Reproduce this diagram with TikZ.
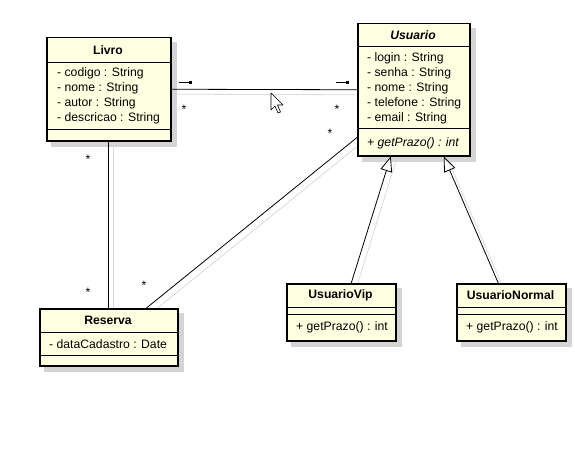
\documentclass[tikz,border=0pt]{standalone}
\usepackage{fontspec}
\setmainfont{Liberation Sans}
\usetikzlibrary{arrows.meta,calc,backgrounds}
\definecolor{classfill}{RGB}{255,255,226}
\definecolor{shadowgray}{RGB}{212,212,212}
\definecolor{lineshadow}{RGB}{218,218,218}
\begin{document}
\begin{tikzpicture}[x=1pt,y=-1pt,
  font=\fontsize{12.2}{14}\selectfont,
  classbox/.style={draw=black,line width=1.5pt,fill=classfill,inner sep=0pt,anchor=north west},
  boxshadow/.style={fill=shadowgray,draw=none},
  sepline/.style={line width=0.8pt},
  member/.style={anchor=west,inner sep=0pt},
  ctitle/.style={inner sep=0pt,font=\fontsize{12.2}{14}\selectfont\bfseries},
  assoc/.style={line width=0.8pt},
  assocshadow/.style={line width=0.8pt,lineshadow},
  mult/.style={inner sep=0pt},
  genarrow/.style={line width=0.8pt,-{Triangle[open,length=15pt,width=12pt,fill=white]}}
]
\useasboundingbox (0,0) rectangle (575,460);

% classes
\node[classbox,minimum width=124pt,minimum height=103pt] (livro) at (46,37) {};
\node[classbox,minimum width=112pt,minimum height=132pt] (usuario) at (357,23) {};
\node[classbox,minimum width=138pt,minimum height=57pt] (reserva) at (39,308) {};
\node[classbox,minimum width=109pt,minimum height=57pt] (vip) at (286,283) {};
\node[classbox,minimum width=109pt,minimum height=57pt] (normal) at (456,283) {};

\begin{scope}[on background layer]
% shadows of boxes
\fill[boxshadow] ([shift={(5,5)}]livro.north west) rectangle ([shift={(5,5)}]livro.south east);
\fill[boxshadow] ([shift={(5,5)}]usuario.north west) rectangle ([shift={(5,5)}]usuario.south east);
\fill[boxshadow] ([shift={(5,5)}]reserva.north west) rectangle ([shift={(5,5)}]reserva.south east);
\fill[boxshadow] ([shift={(5,5)}]vip.north west) rectangle ([shift={(5,5)}]vip.south east);
\fill[boxshadow] ([shift={(5,5)}]normal.north west) rectangle ([shift={(5,5)}]normal.south east);
% shadow lines of connectors
\draw[assocshadow] ([shift={(5,5)}]livro.east) -- ([shift={(5,5)}]usuario.west);
\draw[assocshadow] ([shift={(5,5)}]livro.south) -- ([shift={(5,5)}]reserva.north);
\draw[assocshadow] ([shift={(-27,5)}]reserva.north east) -- ([shift={(5,-14)}]usuario.south west);
\draw[assocshadow] ([shift={(15,5)}]vip.north) -- ([shift={(-18,5)}]usuario.south);
\draw[assocshadow] ([shift={(-8,5)}]normal.north) -- ([shift={(35,5)}]usuario.south);
\end{scope}

% Livro
\draw[sepline] (46,62) -- (170,62);
\draw[sepline] (46,129) -- (170,129);
\node[ctitle] (livroT) at (108,50) {Livro};
\node[member] (l1) at (57,73) {- codigo : String};
\node[member] (l2) at (57,88) {- nome : String};
\node[member] (l3) at (57,103) {- autor : String};
\node[member] (l4) at (57,118) {- descricao : String};

% Usuario
\draw[sepline] (357,46) -- (469,46);
\draw[sepline] (357,128) -- (469,128);
\node[ctitle,font=\fontsize{12.2}{14}\selectfont\bfseries\itshape] (usuarioT) at (413,35) {Usuario};
\node[member] (u1) at (367,58) {- login : String};
\node[member] (u2) at (367,73) {- senha : String};
\node[member] (u3) at (367,88) {- nome : String};
\node[member] (u4) at (367,103) {- telefone : String};
\node[member] (u5) at (367,118) {- email : String};
\node[member,font=\fontsize{12.2}{14}\selectfont\itshape] (u6) at (367,143) {+ getPrazo() : int};

% Reserva
\draw[sepline] (39,332) -- (177,332);
\draw[sepline] (39,355) -- (177,355);
\node[ctitle] (reservaT) at (108,320) {Reserva};
\node[member] (r1) at (49,344) {- dataCadastro : Date};

% UsuarioVip
\draw[sepline] (286,307) -- (395,307);
\draw[sepline] (286,314) -- (395,314);
\node[ctitle] (vipT) at (340.5,295) {UsuarioVip};
\node[member] (v1) at (296,327) {+ getPrazo() : int};

% UsuarioNormal
\draw[sepline] (456,307) -- (565,307);
\draw[sepline] (456,314) -- (565,314);
\node[ctitle] (normalT) at (510.5,295) {UsuarioNormal};
\node[member] (n1) at (466,327) {+ getPrazo() : int};

% connectors
\draw[assoc] (livro.east) -- (usuario.west);
\draw[assoc] (livro.south) -- (reserva.north);
\draw[assoc] ([shift={(-32,0)}]reserva.north east) -- ([shift={(0,-19)}]usuario.south west);
\draw[genarrow] ([shift={(10,0)}]vip.north) -- ([shift={(-23,0)}]usuario.south);
\draw[genarrow] ([shift={(-13,0)}]normal.north) -- ([shift={(30,0)}]usuario.south);

% navigability markers
\coordinate (m1a) at (179,82); \coordinate (m1b) at (189,82);
\coordinate (m2a) at (336,82); \coordinate (m2b) at (346,82);
\draw[line width=0.7pt] (m1a) -- (m1b);
\fill (m1b) ++(-0.5,-1.5) rectangle ++(3,3);
\draw[line width=0.7pt] (m2a) -- (m2b);
\fill (m2b) ++(-0.5,-1.5) rectangle ++(3,3);

% multiplicities
\node[mult] (s1) at (184,109) {*};
\node[mult] (s2) at (337,109) {*};
\node[mult] (s3) at (88,159) {*};
\node[mult] (s4) at (88,292) {*};
\node[mult] (s5) at (144,285) {*};
\node[mult] (s6) at (330,133) {*};

% mouse cursor
\draw[fill=white,line width=0.6pt,line join=round] (271,93) -- (271,110) -- (275,106) -- (278,113) -- (280.5,112) -- (277.5,105) -- (283,105) -- cycle;
\end{tikzpicture}
\end{document}
